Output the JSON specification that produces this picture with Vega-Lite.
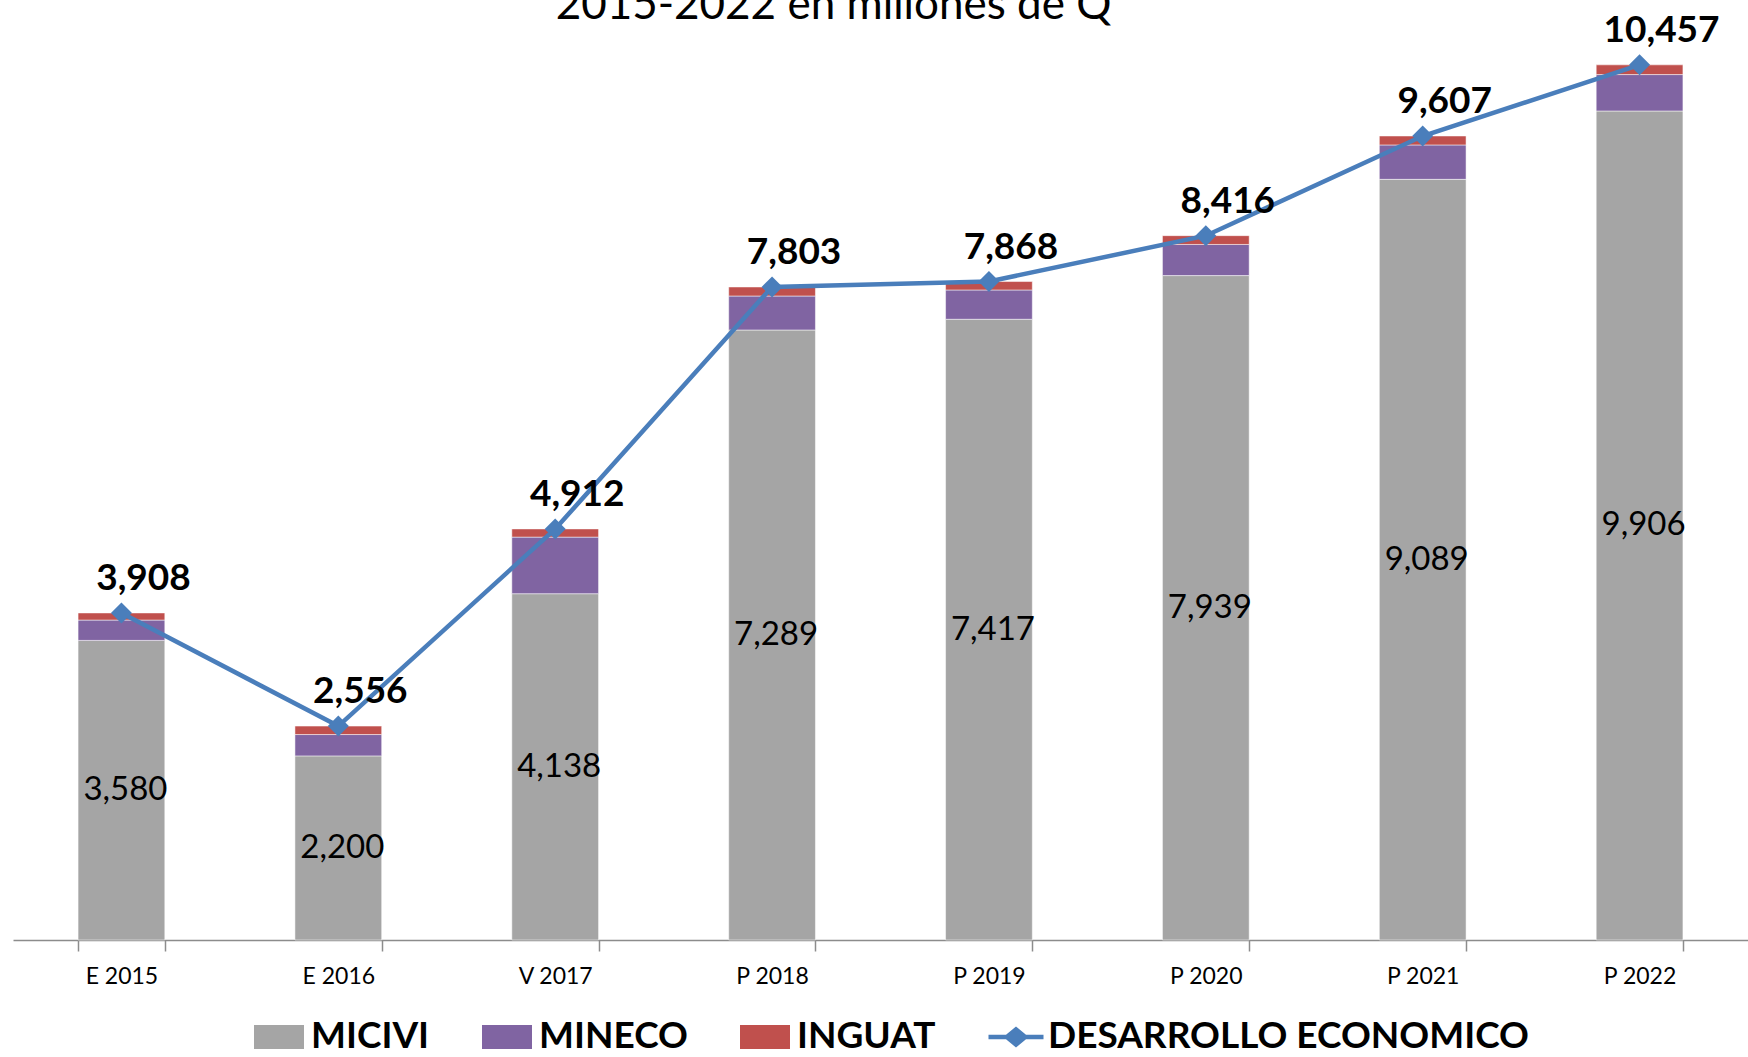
{
  "$schema": "https://vega.github.io/schema/vega-lite/v6.json",
  "width": 1735,
  "height": 940,
  "autosize": {"type": "none"},
  "padding": {"left": 13, "top": 0, "right": 0, "bottom": 117},
  "background": "white",
  "title": {
    "text": "2015-2022 en millones de Q",
    "anchor": "middle",
    "baseline": "alphabetic",
    "offset": -63,
    "dx": -47,
    "font": "Lato",
    "fontSize": 44,
    "fontWeight": "normal",
    "color": "black"
  },
  "config": {
    "view": {"stroke": null},
    "font": "Lato"
  },
  "datasets": {
    "bars": [
      {"anio": "E 2015", "serie": "MICIVI", "valor": 3580},
      {"anio": "E 2015", "serie": "MINECO", "valor": 243},
      {"anio": "E 2015", "serie": "INGUAT", "valor": 85},
      {"anio": "E 2016", "serie": "MICIVI", "valor": 2200},
      {"anio": "E 2016", "serie": "MINECO", "valor": 255},
      {"anio": "E 2016", "serie": "INGUAT", "valor": 101},
      {"anio": "V 2017", "serie": "MICIVI", "valor": 4138},
      {"anio": "V 2017", "serie": "MINECO", "valor": 676},
      {"anio": "V 2017", "serie": "INGUAT", "valor": 98},
      {"anio": "P 2018", "serie": "MICIVI", "valor": 7289},
      {"anio": "P 2018", "serie": "MINECO", "valor": 406},
      {"anio": "P 2018", "serie": "INGUAT", "valor": 108},
      {"anio": "P 2019", "serie": "MICIVI", "valor": 7417},
      {"anio": "P 2019", "serie": "MINECO", "valor": 350},
      {"anio": "P 2019", "serie": "INGUAT", "valor": 101},
      {"anio": "P 2020", "serie": "MICIVI", "valor": 7939},
      {"anio": "P 2020", "serie": "MINECO", "valor": 372},
      {"anio": "P 2020", "serie": "INGUAT", "valor": 105},
      {"anio": "P 2021", "serie": "MICIVI", "valor": 9089},
      {"anio": "P 2021", "serie": "MINECO", "valor": 411},
      {"anio": "P 2021", "serie": "INGUAT", "valor": 107},
      {"anio": "P 2022", "serie": "MICIVI", "valor": 9906},
      {"anio": "P 2022", "serie": "MINECO", "valor": 435},
      {"anio": "P 2022", "serie": "INGUAT", "valor": 116}
    ],
    "total": [
      {"anio": "E 2015", "serie": "DESARROLLO ECONOMICO", "total": 3908},
      {"anio": "E 2016", "serie": "DESARROLLO ECONOMICO", "total": 2556},
      {"anio": "V 2017", "serie": "DESARROLLO ECONOMICO", "total": 4912},
      {"anio": "P 2018", "serie": "DESARROLLO ECONOMICO", "total": 7803},
      {"anio": "P 2019", "serie": "DESARROLLO ECONOMICO", "total": 7868},
      {"anio": "P 2020", "serie": "DESARROLLO ECONOMICO", "total": 8416},
      {"anio": "P 2021", "serie": "DESARROLLO ECONOMICO", "total": 9607},
      {"anio": "P 2022", "serie": "DESARROLLO ECONOMICO", "total": 10457}
    ]
  },
  "encoding": {
    "x": {
      "field": "anio",
      "type": "nominal",
      "sort": null,
      "scale": {"paddingInner": 0.6, "paddingOuter": 0.3},
      "axis": {
        "title": null,
        "labelAngle": 0,
        "labelFont": "Lato",
        "labelFontSize": 23,
        "labelColor": "black",
        "labelBaseline": "alphabetic",
        "labelPadding": 32,
        "tickBand": "extent",
        "tickSize": 11,
        "tickColor": "#8c8c8c",
        "tickWidth": 1.5,
        "domainColor": "#8c8c8c",
        "domainWidth": 1.5
      }
    }
  },
  "layer": [
    {
      "data": {"name": "bars"},
      "transform": [{"calculate": "indexof(['MICIVI','MINECO','INGUAT'], datum.serie)", "as": "orden"}],
      "mark": {"type": "bar", "stroke": "white", "strokeWidth": 1, "strokeOpacity": 0.5},
      "encoding": {
        "y": {
          "field": "valor",
          "type": "quantitative",
          "stack": "zero",
          "scale": {"domain": [0, 11232], "nice": false, "zero": true},
          "axis": null
        },
        "order": {"field": "orden", "type": "quantitative", "sort": "ascending"},
        "color": {
          "field": "serie",
          "type": "nominal",
          "sort": ["MICIVI", "MINECO", "INGUAT", "DESARROLLO ECONOMICO"],
          "scale": {
            "domain": ["MICIVI", "MINECO", "INGUAT", "DESARROLLO ECONOMICO"],
            "range": ["#A5A5A5", "#8064A2", "#C0504D", "#4A7EBB"]
          },
          "legend": {
            "title": null,
            "orient": "none",
            "direction": "horizontal",
            "legendX": 241,
            "legendY": 1012,
            "symbolSize": 2500,
            "symbolStrokeWidth": 0,
            "symbolOpacity": 1,
            "labelFont": "Lato",
            "labelFontSize": 37,
            "labelFontWeight": "bold",
            "labelColor": "black",
            "labelOffset": 7,
            "labelLimit": 800,
            "columnPadding": 52
          }
        }
      }
    },
    {
      "data": {"name": "bars"},
      "transform": [{"filter": "datum.serie === 'MICIVI'"}],
      "mark": {"type": "text", "font": "Lato", "fontSize": 33, "color": "black", "baseline": "middle", "dx": 4},
      "encoding": {
        "y": {
          "field": "valor",
          "type": "quantitative",
          "scale": {"domain": [0, 22464], "nice": false, "zero": true},
          "axis": null
        },
        "text": {"field": "valor", "type": "quantitative", "format": ",.0f"}
      }
    },
    {
      "data": {"name": "total"},
      "mark": {"type": "line", "strokeWidth": 4.5},
      "encoding": {
        "y": {
          "field": "total",
          "type": "quantitative",
          "scale": {"domain": [0, 11232], "nice": false, "zero": true},
          "axis": null
        },
        "color": {"field": "serie", "type": "nominal"}
      }
    },
    {
      "data": {"name": "total"},
      "mark": {"type": "point", "shape": "diamond", "filled": true, "size": 440, "opacity": 1},
      "encoding": {
        "y": {
          "field": "total",
          "type": "quantitative",
          "scale": {"domain": [0, 11232], "nice": false, "zero": true},
          "axis": null
        },
        "color": {"field": "serie", "type": "nominal"}
      }
    },
    {
      "data": {"name": "total"},
      "mark": {"type": "point", "filled": true, "opacity": 0},
      "encoding": {
        "y": {
          "field": "total",
          "type": "quantitative",
          "scale": {"domain": [0, 11232], "nice": false, "zero": true},
          "axis": null
        },
        "shape": {
          "field": "serie",
          "type": "nominal",
          "sort": ["MICIVI", "MINECO", "INGUAT", "DESARROLLO ECONOMICO"],
          "scale": {
            "domain": ["MICIVI", "MINECO", "INGUAT", "DESARROLLO ECONOMICO"],
            "range": [
              "M-1,-0.48H1V0.48H-1Z",
              "M-1,-0.48H1V0.48H-1Z",
              "M-1,-0.48H1V0.48H-1Z",
              "M-1.1,-0.09L-0.4,-0.09L0,-0.42L0.4,-0.09L1.1,-0.09L1.1,0.09L0.4,0.09L0,0.42L-0.4,0.09L-1.1,0.09Z"
            ]
          },
          "legend": {
            "title": null,
            "orient": "none",
            "direction": "horizontal",
            "legendX": 241,
            "legendY": 1012,
            "symbolSize": 2500,
            "symbolStrokeWidth": 0,
            "symbolOpacity": 1,
            "labelFont": "Lato",
            "labelFontSize": 37,
            "labelFontWeight": "bold",
            "labelColor": "black",
            "labelOffset": 7,
            "labelLimit": 800,
            "columnPadding": 52
          }
        }
      }
    },
    {
      "data": {"name": "total"},
      "mark": {"type": "text", "font": "Lato", "fontSize": 37, "fontWeight": "bold", "color": "black", "baseline": "alphabetic", "dx": 22, "dy": -23},
      "encoding": {
        "y": {
          "field": "total",
          "type": "quantitative",
          "scale": {"domain": [0, 11232], "nice": false, "zero": true},
          "axis": null
        },
        "text": {"field": "total", "type": "quantitative", "format": ",.0f"}
      }
    }
  ],
  "resolve": {"scale": {"y": "independent"}}
}
